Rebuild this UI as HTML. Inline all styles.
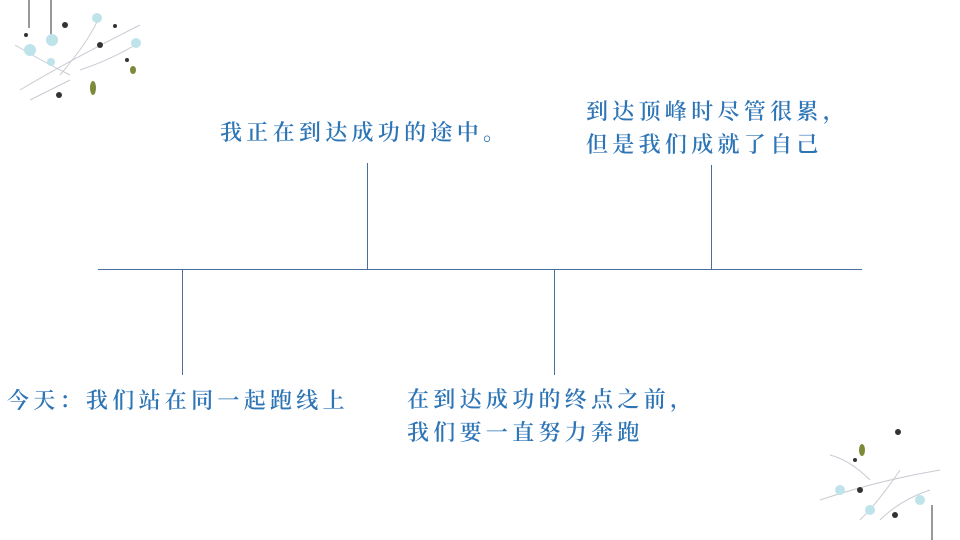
<!DOCTYPE html>
<html><head><meta charset="utf-8"><style>
body{margin:0;width:960px;height:540px;background:#fff;position:relative;overflow:hidden;font-family:"Liberation Serif","Noto Serif CJK SC",serif;}
.t{position:absolute;color:#2e75b6;font-size:22px;font-weight:600;letter-spacing:4.3px;line-height:33px;white-space:nowrap;}
.h{position:absolute;height:1px;background:#4a6e9c;}
.v{position:absolute;width:1px;background:#4a6e9c;}
</style></head><body>
<svg width="960" height="540" style="position:absolute;left:0;top:0">
<g stroke="#c8cbd2" stroke-width="1" fill="none">
<path d="M20 90 Q70 60 140 25"/><path d="M60 75 Q90 40 100 15"/><path d="M80 70 Q110 60 135 45"/><path d="M15 45 Q40 60 70 75"/><path d="M30 100 Q50 90 70 80"/>
<path d="M940 470 Q880 480 820 500"/><path d="M900 470 Q880 500 860 520"/><path d="M930 490 Q900 500 880 520"/><path d="M870 480 Q850 460 830 455"/>
</g>
<line x1="29" y1="0" x2="29" y2="28" stroke="#777" stroke-width="1.5"/>
<line x1="51" y1="0" x2="51" y2="35" stroke="#777" stroke-width="1.5"/>
<line x1="932" y1="505" x2="932" y2="540" stroke="#777" stroke-width="1.5"/>
<g fill="#bfe3ea"><circle cx="30" cy="50" r="6"/><circle cx="52" cy="40" r="6"/><circle cx="97" cy="18" r="5"/><circle cx="136" cy="43" r="5"/><circle cx="51" cy="62" r="4"/><circle cx="840" cy="490" r="5"/><circle cx="870" cy="510" r="5"/><circle cx="920" cy="500" r="5"/></g>
<g fill="#333"><circle cx="26" cy="35" r="2"/><circle cx="115" cy="26" r="2"/><circle cx="127" cy="60" r="2"/><circle cx="59" cy="95" r="3"/><circle cx="65" cy="25" r="3"/><circle cx="100" cy="45" r="3"/><circle cx="898" cy="432" r="3"/><circle cx="860" cy="490" r="3"/><circle cx="895" cy="515" r="3"/><circle cx="855" cy="460" r="2"/></g>
<g fill="#7d8a3a"><ellipse cx="93" cy="88" rx="3" ry="7"/><ellipse cx="133" cy="70" rx="3" ry="4"/><ellipse cx="862" cy="450" rx="3" ry="6"/></g>
</svg>
<div class="h" style="left:98px;top:269px;width:764px"></div>
<div class="v" style="left:367px;top:163px;height:106px"></div>
<div class="v" style="left:711px;top:165px;height:104px"></div>
<div class="v" style="left:182px;top:270px;height:105px"></div>
<div class="v" style="left:554px;top:270px;height:105px"></div>
<div class="t" style="left:220px;top:116px">我正在到达成功的途中。</div>
<div class="t" style="left:586px;top:95px">到达顶峰时尽管很累，<br>但是我们成就了自己</div>
<div class="t" style="left:7px;top:384px">今天：我们站在同一起跑线上</div>
<div class="t" style="left:407px;top:383px">在到达成功的终点之前，<br>我们要一直努力奔跑</div>
</body></html>
